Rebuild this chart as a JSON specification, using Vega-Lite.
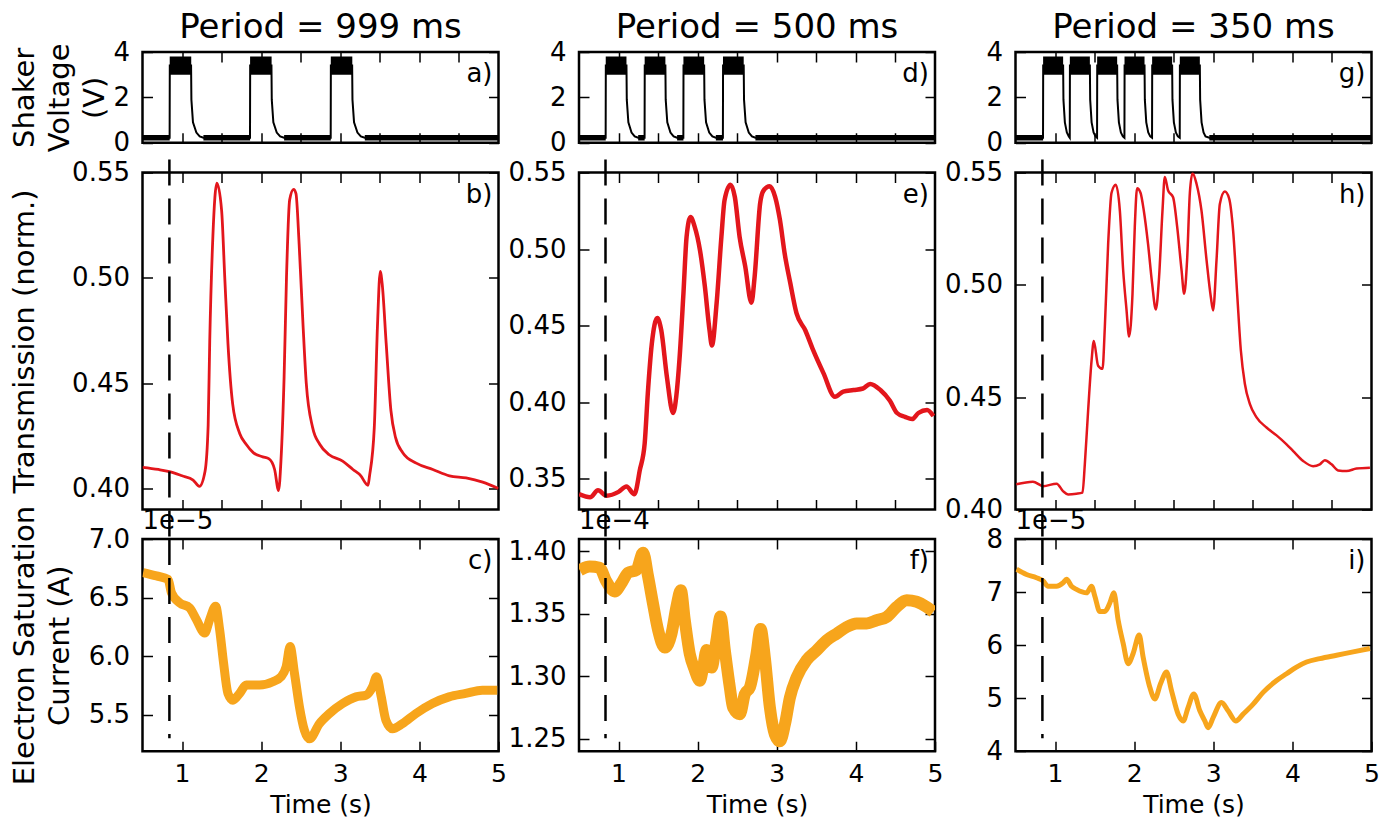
{
"$schema": "https://vega.github.io/schema/vega-lite/v6.json",
"padding": {"left": 8.5, "top": 9, "right": 5, "bottom": 3},
"background": "white",
"config": {
  "font": "DejaVu Sans",
  "view": {"stroke": "black", "strokeWidth": 2.5},
  "axis": {"domain": false, "grid": false, "tickColor": "black", "tickWidth": 1.5, "tickSize": -10,
    "labelFont": "DejaVu Sans", "labelFontSize": 26, "labelColor": "black", "labelPadding": 23,
    "labelFlush": false, "labelOverlap": false, "labelBound": false,
    "titleFont": "DejaVu Sans", "titleFontSize": 29, "titleFontWeight": "normal", "titleColor": "black"},
  "title": {"font": "DejaVu Sans", "fontSize": 34, "fontWeight": "normal", "color": "black", "baseline": "alphabetic", "frame": "group"},
  "text": {"font": "DejaVu Sans"}
},
"datasets": {
  "band999": [
    {"t0":0.844,"t1":1.116,"lo":3.0,"hi":3.8},{"t0":1.86,"t1":2.132,"lo":3.0,"hi":3.8},{"t0":2.88,"t1":3.152,"lo":3.0,"hi":3.8},
    {"t0":0.5,"t1":0.844,"lo":0.1,"hi":0.34},{"t0":1.27,"t1":1.86,"lo":0.1,"hi":0.34},{"t0":2.29,"t1":2.88,"lo":0.1,"hi":0.34},{"t0":3.31,"t1":5,"lo":0.1,"hi":0.34}],
  "band500": [
    {"t0":0.838,"t1":1.1,"lo":3.0,"hi":3.8},{"t0":1.33,"t1":1.592,"lo":3.0,"hi":3.8},{"t0":1.82,"t1":2.082,"lo":3.0,"hi":3.8},{"t0":2.32,"t1":2.582,"lo":3.0,"hi":3.8},
    {"t0":0.5,"t1":0.838,"lo":0.1,"hi":0.34},{"t0":1.248,"t1":1.33,"lo":0.1,"hi":0.34},{"t0":1.74,"t1":1.82,"lo":0.1,"hi":0.34},{"t0":2.23,"t1":2.32,"lo":0.1,"hi":0.34},{"t0":2.73,"t1":5,"lo":0.1,"hi":0.34}],
  "band350": [
    {"t0":0.849,"t1":1.102,"lo":3.0,"hi":3.8},{"t0":1.187,"t1":1.44,"lo":3.0,"hi":3.8},{"t0":1.532,"t1":1.785,"lo":3.0,"hi":3.8},{"t0":1.878,"t1":2.131,"lo":3.0,"hi":3.8},{"t0":2.227,"t1":2.48,"lo":3.0,"hi":3.8},{"t0":2.577,"t1":2.83,"lo":3.0,"hi":3.8},
    {"t0":0.5,"t1":0.849,"lo":0.1,"hi":0.34},{"t0":2.95,"t1":5,"lo":0.1,"hi":0.34}],
  "volt999": [
    {"t":0.5,"v":0.22},{"t":0.843,"v":0.22},{"t":0.845,"v":3.4},{"t":1.114,"v":3.4},{"t":1.118,"v":1.9},{"t":1.138,"v":0.9},{"t":1.181,"v":0.45},{"t":1.223,"v":0.28},{"t":1.27,"v":0.22},
    {"t":1.859,"v":0.22},{"t":1.861,"v":3.4},{"t":2.13,"v":3.4},{"t":2.134,"v":1.9},{"t":2.154,"v":0.9},{"t":2.197,"v":0.45},{"t":2.24,"v":0.28},{"t":2.29,"v":0.22},
    {"t":2.879,"v":0.22},{"t":2.881,"v":3.4},{"t":3.15,"v":3.4},{"t":3.154,"v":1.9},{"t":3.174,"v":0.9},{"t":3.217,"v":0.45},{"t":3.26,"v":0.28},{"t":3.31,"v":0.22},{"t":5,"v":0.22}],
  "volt500": [
    {"t":0.5,"v":0.22},{"t":0.837,"v":0.22},{"t":0.839,"v":3.4},{"t":1.1,"v":3.4},{"t":1.104,"v":1.9},{"t":1.124,"v":0.9},{"t":1.164,"v":0.45},{"t":1.204,"v":0.28},{"t":1.248,"v":0.22},
    {"t":1.329,"v":0.22},{"t":1.331,"v":3.4},{"t":1.592,"v":3.4},{"t":1.596,"v":1.9},{"t":1.616,"v":0.9},{"t":1.656,"v":0.45},{"t":1.696,"v":0.28},{"t":1.74,"v":0.22},
    {"t":1.819,"v":0.22},{"t":1.821,"v":3.4},{"t":2.082,"v":3.4},{"t":2.086,"v":1.9},{"t":2.106,"v":0.9},{"t":2.146,"v":0.45},{"t":2.186,"v":0.28},{"t":2.23,"v":0.22},
    {"t":2.319,"v":0.22},{"t":2.321,"v":3.4},{"t":2.582,"v":3.4},{"t":2.586,"v":1.9},{"t":2.606,"v":0.9},{"t":2.646,"v":0.45},{"t":2.686,"v":0.28},{"t":2.73,"v":0.22},{"t":5,"v":0.22}],
  "volt350": [
    {"t":0.5,"v":0.22},{"t":0.848,"v":0.22},{"t":0.85,"v":3.4},{"t":1.102,"v":3.4},{"t":1.106,"v":1.9},{"t":1.124,"v":0.9},{"t":1.149,"v":0.45},{"t":1.174,"v":0.28},{"t":1.186,"v":0.22},
    {"t":1.188,"v":3.4},{"t":1.44,"v":3.4},{"t":1.444,"v":1.9},{"t":1.462,"v":0.9},{"t":1.487,"v":0.45},{"t":1.512,"v":0.28},{"t":1.531,"v":0.22},
    {"t":1.533,"v":3.4},{"t":1.785,"v":3.4},{"t":1.789,"v":1.9},{"t":1.807,"v":0.9},{"t":1.832,"v":0.45},{"t":1.857,"v":0.28},{"t":1.877,"v":0.22},
    {"t":1.879,"v":3.4},{"t":2.131,"v":3.4},{"t":2.135,"v":1.9},{"t":2.153,"v":0.9},{"t":2.178,"v":0.45},{"t":2.203,"v":0.28},{"t":2.226,"v":0.22},
    {"t":2.228,"v":3.4},{"t":2.48,"v":3.4},{"t":2.484,"v":1.9},{"t":2.502,"v":0.9},{"t":2.527,"v":0.45},{"t":2.552,"v":0.28},{"t":2.576,"v":0.22},
    {"t":2.578,"v":3.4},{"t":2.83,"v":3.4},{"t":2.834,"v":1.9},{"t":2.852,"v":0.9},{"t":2.877,"v":0.45},{"t":2.902,"v":0.28},{"t":2.95,"v":0.22},{"t":5,"v":0.22}],
  "tr999": [
    {"t":0.5,"v":0.41},{"t":0.7,"v":0.409},{"t":0.84,"v":0.408},{"t":1.0,"v":0.406},{"t":1.14,"v":0.404},{"t":1.22,"v":0.401},{"t":1.29,"v":0.408},{"t":1.33,"v":0.43},{"t":1.35,"v":0.47},{"t":1.39,"v":0.52},{"t":1.44,"v":0.545},{"t":1.5,"v":0.532},{"t":1.54,"v":0.5},{"t":1.58,"v":0.469},{"t":1.64,"v":0.44},{"t":1.73,"v":0.426},{"t":1.81,"v":0.421},{"t":1.9,"v":0.417},{"t":2.02,"v":0.415},{"t":2.1,"v":0.414},{"t":2.17,"v":0.409},{"t":2.22,"v":0.399},{"t":2.25,"v":0.413},{"t":2.29,"v":0.453},{"t":2.32,"v":0.5},{"t":2.36,"v":0.537},{"t":2.41,"v":0.542},{"t":2.44,"v":0.54},{"t":2.48,"v":0.516},{"t":2.53,"v":0.477},{"t":2.57,"v":0.45},{"t":2.65,"v":0.429},{"t":2.74,"v":0.421},{"t":2.86,"v":0.416},{"t":3.03,"v":0.413},{"t":3.16,"v":0.409},{"t":3.26,"v":0.406},{"t":3.33,"v":0.402},{"t":3.35,"v":0.4015},{"t":3.37,"v":0.406},{"t":3.43,"v":0.429},{"t":3.47,"v":0.477},{"t":3.505,"v":0.503},{"t":3.53,"v":0.497},{"t":3.58,"v":0.469},{"t":3.64,"v":0.437},{"t":3.7,"v":0.424},{"t":3.79,"v":0.417},{"t":3.96,"v":0.412},{"t":4.17,"v":0.409},{"t":4.38,"v":0.406},{"t":4.59,"v":0.405},{"t":4.8,"v":0.403},{"t":5.0,"v":0.4}],
  "tr500": [
    {"t":0.5,"v":0.34},{"t":0.64,"v":0.338},{"t":0.74,"v":0.3425},{"t":0.85,"v":0.339},{"t":1.0,"v":0.3415},{"t":1.1,"v":0.345},{"t":1.2,"v":0.34},{"t":1.27,"v":0.356},{"t":1.33,"v":0.373},{"t":1.37,"v":0.406},{"t":1.42,"v":0.438},{"t":1.49,"v":0.455},{"t":1.54,"v":0.447},{"t":1.61,"v":0.417},{"t":1.69,"v":0.393},{"t":1.73,"v":0.404},{"t":1.77,"v":0.428},{"t":1.82,"v":0.471},{"t":1.86,"v":0.508},{"t":1.91,"v":0.521},{"t":1.96,"v":0.515},{"t":2.03,"v":0.499},{"t":2.09,"v":0.476},{"t":2.15,"v":0.447},{"t":2.18,"v":0.437},{"t":2.24,"v":0.465},{"t":2.3,"v":0.508},{"t":2.34,"v":0.532},{"t":2.415,"v":0.542},{"t":2.47,"v":0.534},{"t":2.53,"v":0.508},{"t":2.6,"v":0.489},{"t":2.68,"v":0.465},{"t":2.72,"v":0.482},{"t":2.79,"v":0.53},{"t":2.83,"v":0.538},{"t":2.91,"v":0.541},{"t":2.98,"v":0.534},{"t":3.04,"v":0.519},{"t":3.1,"v":0.497},{"t":3.17,"v":0.478},{"t":3.25,"v":0.458},{"t":3.36,"v":0.447},{"t":3.46,"v":0.434},{"t":3.59,"v":0.419},{"t":3.735,"v":0.4036},{"t":3.84,"v":0.407},{"t":3.97,"v":0.408},{"t":4.09,"v":0.409},{"t":4.18,"v":0.412},{"t":4.31,"v":0.408},{"t":4.43,"v":0.401},{"t":4.52,"v":0.393},{"t":4.62,"v":0.3905},{"t":4.71,"v":0.389},{"t":4.79,"v":0.393},{"t":4.9,"v":0.395},{"t":4.98,"v":0.391}],
  "tr350": [
    {"t":0.51,"v":0.4112},{"t":0.72,"v":0.4124},{"t":0.85,"v":0.4104},{"t":1.02,"v":0.4115},{"t":1.1,"v":0.4082},{"t":1.165,"v":0.4067},{"t":1.27,"v":0.407},{"t":1.347,"v":0.4075},{"t":1.376,"v":0.42},{"t":1.418,"v":0.444},{"t":1.461,"v":0.466},{"t":1.49,"v":0.475},{"t":1.544,"v":0.464},{"t":1.6,"v":0.4626},{"t":1.629,"v":0.481},{"t":1.671,"v":0.518},{"t":1.714,"v":0.541},{"t":1.768,"v":0.5445},{"t":1.819,"v":0.533},{"t":1.861,"v":0.5065},{"t":1.903,"v":0.489},{"t":1.936,"v":0.477},{"t":1.979,"v":0.496},{"t":2.008,"v":0.526},{"t":2.037,"v":0.543},{"t":2.08,"v":0.541},{"t":2.122,"v":0.533},{"t":2.176,"v":0.518},{"t":2.227,"v":0.5005},{"t":2.274,"v":0.489},{"t":2.315,"v":0.5035},{"t":2.358,"v":0.533},{"t":2.387,"v":0.548},{"t":2.429,"v":0.542},{"t":2.492,"v":0.539},{"t":2.543,"v":0.526},{"t":2.599,"v":0.5065},{"t":2.632,"v":0.496},{"t":2.669,"v":0.511},{"t":2.704,"v":0.541},{"t":2.738,"v":0.5497},{"t":2.788,"v":0.545},{"t":2.851,"v":0.533},{"t":2.915,"v":0.511},{"t":2.969,"v":0.4946},{"t":2.998,"v":0.4886},{"t":3.041,"v":0.511},{"t":3.083,"v":0.536},{"t":3.146,"v":0.5415},{"t":3.2,"v":0.5385},{"t":3.251,"v":0.524},{"t":3.302,"v":0.496},{"t":3.348,"v":0.471},{"t":3.399,"v":0.456},{"t":3.462,"v":0.447},{"t":3.547,"v":0.441},{"t":3.673,"v":0.4365},{"t":3.8,"v":0.433},{"t":3.926,"v":0.429},{"t":4.01,"v":0.426},{"t":4.136,"v":0.4216},{"t":4.262,"v":0.4193},{"t":4.347,"v":0.4201},{"t":4.41,"v":0.4219},{"t":4.495,"v":0.4201},{"t":4.578,"v":0.4174},{"t":4.685,"v":0.4171},{"t":4.811,"v":0.4182},{"t":4.98,"v":0.4186}],
  "cur999": [
    {"t":0.508,"v":6.714},{"t":0.677,"v":6.685},{"t":0.823,"v":6.656},{"t":0.866,"v":6.542},{"t":0.97,"v":6.456},{"t":1.096,"v":6.413},{"t":1.181,"v":6.313},{"t":1.286,"v":6.198},{"t":1.349,"v":6.313},{"t":1.424,"v":6.427},{"t":1.475,"v":6.227},{"t":1.525,"v":5.941},{"t":1.58,"v":5.683},{"t":1.643,"v":5.625},{"t":1.727,"v":5.683},{"t":1.811,"v":5.754},{"t":1.979,"v":5.754},{"t":2.147,"v":5.783},{"t":2.253,"v":5.826},{"t":2.316,"v":5.912},{"t":2.366,"v":6.083},{"t":2.421,"v":5.855},{"t":2.484,"v":5.568},{"t":2.547,"v":5.368},{"t":2.61,"v":5.296},{"t":2.736,"v":5.425},{"t":2.862,"v":5.511},{"t":3.03,"v":5.597},{"t":3.199,"v":5.654},{"t":3.325,"v":5.668},{"t":3.408,"v":5.74},{"t":3.459,"v":5.826},{"t":3.514,"v":5.668},{"t":3.577,"v":5.454},{"t":3.66,"v":5.382},{"t":3.786,"v":5.425},{"t":3.955,"v":5.511},{"t":4.165,"v":5.597},{"t":4.375,"v":5.654},{"t":4.585,"v":5.683},{"t":4.795,"v":5.711},{"t":4.984,"v":5.711}],
  "cur500": [
    {"t":0.509,"v":1.385},{"t":0.635,"v":1.388},{"t":0.762,"v":1.387},{"t":0.838,"v":1.377},{"t":0.952,"v":1.368},{"t":1.036,"v":1.3745},{"t":1.12,"v":1.383},{"t":1.226,"v":1.3852},{"t":1.31,"v":1.399},{"t":1.373,"v":1.38},{"t":1.436,"v":1.358},{"t":1.5,"v":1.337},{"t":1.584,"v":1.323},{"t":1.669,"v":1.334},{"t":1.732,"v":1.356},{"t":1.787,"v":1.369},{"t":1.837,"v":1.345},{"t":1.9,"v":1.318},{"t":1.964,"v":1.305},{"t":2.027,"v":1.2965},{"t":2.069,"v":1.307},{"t":2.112,"v":1.321},{"t":2.175,"v":1.307},{"t":2.238,"v":1.329},{"t":2.289,"v":1.348},{"t":2.343,"v":1.321},{"t":2.407,"v":1.291},{"t":2.448,"v":1.275},{"t":2.533,"v":1.2697},{"t":2.596,"v":1.2858},{"t":2.66,"v":1.2911},{"t":2.744,"v":1.3181},{"t":2.795,"v":1.338},{"t":2.849,"v":1.315},{"t":2.913,"v":1.275},{"t":2.976,"v":1.2535},{"t":3.039,"v":1.248},{"t":3.103,"v":1.2616},{"t":3.166,"v":1.283},{"t":3.25,"v":1.299},{"t":3.377,"v":1.313},{"t":3.503,"v":1.3207},{"t":3.63,"v":1.3288},{"t":3.757,"v":1.3342},{"t":3.883,"v":1.3395},{"t":4.01,"v":1.3423},{"t":4.136,"v":1.3423},{"t":4.263,"v":1.3449},{"t":4.389,"v":1.3476},{"t":4.516,"v":1.3556},{"t":4.642,"v":1.361},{"t":4.769,"v":1.3597},{"t":4.895,"v":1.3556},{"t":4.979,"v":1.3516}],
  "cur350": [
    {"t":0.513,"v":7.43},{"t":0.639,"v":7.33},{"t":0.765,"v":7.27},{"t":0.849,"v":7.21},{"t":0.912,"v":7.11},{"t":1.018,"v":7.11},{"t":1.102,"v":7.175},{"t":1.145,"v":7.24},{"t":1.208,"v":7.11},{"t":1.271,"v":7.05},{"t":1.398,"v":6.985},{"t":1.461,"v":7.11},{"t":1.503,"v":6.92},{"t":1.566,"v":6.634},{"t":1.629,"v":6.634},{"t":1.692,"v":6.794},{"t":1.743,"v":6.985},{"t":1.797,"v":6.476},{"t":1.861,"v":6.032},{"t":1.924,"v":5.651},{"t":1.987,"v":5.842},{"t":2.063,"v":6.19},{"t":2.113,"v":5.778},{"t":2.198,"v":5.206},{"t":2.261,"v":4.985},{"t":2.333,"v":5.27},{"t":2.409,"v":5.492},{"t":2.472,"v":5.143},{"t":2.556,"v":4.699},{"t":2.619,"v":4.571},{"t":2.682,"v":4.825},{"t":2.754,"v":5.08},{"t":2.83,"v":4.762},{"t":2.893,"v":4.571},{"t":2.935,"v":4.444},{"t":2.998,"v":4.634},{"t":3.104,"v":4.92},{"t":3.188,"v":4.762},{"t":3.285,"v":4.571},{"t":3.377,"v":4.699},{"t":3.504,"v":4.889},{"t":3.63,"v":5.11},{"t":3.8,"v":5.333},{"t":3.926,"v":5.461},{"t":4.052,"v":5.587},{"t":4.179,"v":5.682},{"t":4.347,"v":5.746},{"t":4.558,"v":5.81},{"t":4.768,"v":5.872},{"t":4.98,"v":5.937}]
},
"columns": 3,
"bounds": "flush",
"spacing": {"row": 29.5, "column": 80.5},
"concat": [
 {"width": 356, "height": 90.75, "title": {"text": "Period = 999 ms", "offset": -6},
  "layer": [
   {"data": {"name": "band999"}, "mark": {"type": "rect", "color": "black", "clip": true},
    "encoding": {
     "x": {"field": "t0", "type": "quantitative", "scale": {"domain": [0.5, 5], "nice": false, "zero": false}, "axis": {"orient": "bottom", "values": [1,1.5,2,2.5,3,3.5,4,4.5], "labels": false, "title": null}},
     "x2": {"field": "t1"},
     "y": {"field": "lo", "type": "quantitative", "scale": {"domain": [0, 4], "nice": false, "zero": false}, "axis": {"orient": "left", "values": [0,2,4], "title": ["Shaker","Voltage","(V)"], "titleX": -132, "titleBaseline": "top", "titleLineHeight": 35, "titleAngle": 270}},
     "y2": {"field": "hi"}}},
   {"data": {"name": "volt999"}, "mark": {"type": "line", "color": "black", "strokeWidth": 2, "clip": true},
    "encoding": {"x": {"field": "t", "type": "quantitative", "scale": {"domain": [0.5, 5], "nice": false, "zero": false}, "axis": null}, "y": {"field": "v", "type": "quantitative", "scale": {"domain": [0, 4], "nice": false, "zero": false}, "axis": null}}},
   {"data": {"values": [{"lab": "a)"}]}, "mark": {"type": "text", "align": "right", "baseline": "alphabetic", "dx": -6, "dy": 30, "fontSize": 26, "color": "black"},
    "encoding": {"text": {"field": "lab"},
     "x": {"datum": 5, "type": "quantitative", "scale": {"domain": [0.5, 5], "nice": false, "zero": false}, "axis": {"orient": "top", "values": [1,1.5,2,2.5,3,3.5,4,4.5], "labels": false, "title": null}},
     "y": {"datum": 4, "type": "quantitative", "scale": {"domain": [0, 4], "nice": false, "zero": false}, "axis": {"orient": "right", "values": [0,2,4], "labels": false, "title": null}}}}
  ]},
 {"width": 356, "height": 90.75, "title": {"text": "Period = 500 ms", "offset": -6},
  "layer": [
   {"data": {"name": "band500"}, "mark": {"type": "rect", "color": "black", "clip": true},
    "encoding": {
     "x": {"field": "t0", "type": "quantitative", "scale": {"domain": [0.5, 5], "nice": false, "zero": false}, "axis": {"orient": "bottom", "values": [1,1.5,2,2.5,3,3.5,4,4.5], "labels": false, "title": null}},
     "x2": {"field": "t1"},
     "y": {"field": "lo", "type": "quantitative", "scale": {"domain": [0, 4], "nice": false, "zero": false}, "axis": {"orient": "left", "values": [0,2,4], "title": null}},
     "y2": {"field": "hi"}}},
   {"data": {"name": "volt500"}, "mark": {"type": "line", "color": "black", "strokeWidth": 2, "clip": true},
    "encoding": {"x": {"field": "t", "type": "quantitative", "scale": {"domain": [0.5, 5], "nice": false, "zero": false}, "axis": null}, "y": {"field": "v", "type": "quantitative", "scale": {"domain": [0, 4], "nice": false, "zero": false}, "axis": null}}},
   {"data": {"values": [{"lab": "d)"}]}, "mark": {"type": "text", "align": "right", "baseline": "alphabetic", "dx": -6, "dy": 30, "fontSize": 26, "color": "black"},
    "encoding": {"text": {"field": "lab"},
     "x": {"datum": 5, "type": "quantitative", "scale": {"domain": [0.5, 5], "nice": false, "zero": false}, "axis": {"orient": "top", "values": [1,1.5,2,2.5,3,3.5,4,4.5], "labels": false, "title": null}},
     "y": {"datum": 4, "type": "quantitative", "scale": {"domain": [0, 4], "nice": false, "zero": false}, "axis": {"orient": "right", "values": [0,2,4], "labels": false, "title": null}}}}
  ]},
 {"width": 356, "height": 90.75, "title": {"text": "Period = 350 ms", "offset": -6},
  "layer": [
   {"data": {"name": "band350"}, "mark": {"type": "rect", "color": "black", "clip": true},
    "encoding": {
     "x": {"field": "t0", "type": "quantitative", "scale": {"domain": [0.5, 5], "nice": false, "zero": false}, "axis": {"orient": "bottom", "values": [1,1.5,2,2.5,3,3.5,4,4.5], "labels": false, "title": null}},
     "x2": {"field": "t1"},
     "y": {"field": "lo", "type": "quantitative", "scale": {"domain": [0, 4], "nice": false, "zero": false}, "axis": {"orient": "left", "values": [0,2,4], "title": null}},
     "y2": {"field": "hi"}}},
   {"data": {"name": "volt350"}, "mark": {"type": "line", "color": "black", "strokeWidth": 2, "clip": true},
    "encoding": {"x": {"field": "t", "type": "quantitative", "scale": {"domain": [0.5, 5], "nice": false, "zero": false}, "axis": null}, "y": {"field": "v", "type": "quantitative", "scale": {"domain": [0, 4], "nice": false, "zero": false}, "axis": null}}},
   {"data": {"values": [{"lab": "g)"}]}, "mark": {"type": "text", "align": "right", "baseline": "alphabetic", "dx": -6, "dy": 30, "fontSize": 26, "color": "black"},
    "encoding": {"text": {"field": "lab"},
     "x": {"datum": 5, "type": "quantitative", "scale": {"domain": [0.5, 5], "nice": false, "zero": false}, "axis": {"orient": "top", "values": [1,1.5,2,2.5,3,3.5,4,4.5], "labels": false, "title": null}},
     "y": {"datum": 4, "type": "quantitative", "scale": {"domain": [0, 4], "nice": false, "zero": false}, "axis": {"orient": "right", "values": [0,2,4], "labels": false, "title": null}}}}
  ]},
 {"width": 356, "height": 337,
  "layer": [
   {"data": {"name": "tr999"}, "mark": {"type": "line", "color": "#e3161c", "strokeWidth": 2.8, "interpolate": "monotone", "clip": true},
    "encoding": {
     "x": {"field": "t", "type": "quantitative", "scale": {"domain": [0.5, 5], "nice": false, "zero": false}, "axis": {"orient": "bottom", "values": [1,1.5,2,2.5,3,3.5,4,4.5], "labels": false, "title": null}},
     "y": {"field": "v", "type": "quantitative", "scale": {"domain": [0.39, 0.55], "nice": false, "zero": false}, "axis": {"orient": "left", "values": [0.4,0.45,0.5,0.55], "format": ".2f", "title": "Transmission (norm.)", "titleX": -132, "titleBaseline": "top", "titleAngle": 270}}}},
   {"data": {"values": [{}]}, "mark": {"type": "rule", "color": "black", "strokeWidth": 2.5, "strokeDash": [26, 13]},
    "encoding": {"x": {"datum": 0.84, "type": "quantitative", "scale": {"domain": [0.5, 5], "nice": false, "zero": false}, "axis": null},
     "y": {"datum": 0.5562, "type": "quantitative", "scale": {"domain": [0.39, 0.55], "nice": false, "zero": false}, "axis": null}, "y2": {"datum": 0.376}}},
   {"data": {"values": [{"lab": "b)"}]}, "mark": {"type": "text", "align": "right", "baseline": "alphabetic", "dx": -6, "dy": 30, "fontSize": 26, "color": "black"},
    "encoding": {"text": {"field": "lab"},
     "x": {"datum": 5, "type": "quantitative", "scale": {"domain": [0.5, 5], "nice": false, "zero": false}, "axis": {"orient": "top", "values": [1,1.5,2,2.5,3,3.5,4,4.5], "labels": false, "title": null}},
     "y": {"datum": 0.55, "type": "quantitative", "scale": {"domain": [0.39, 0.55], "nice": false, "zero": false}, "axis": {"orient": "right", "values": [0.4,0.45,0.5,0.55], "labels": false, "title": null}}}}
  ]},
 {"width": 356, "height": 337,
  "layer": [
   {"data": {"name": "tr500"}, "mark": {"type": "line", "color": "#e3161c", "strokeWidth": 4.5, "interpolate": "monotone", "clip": true},
    "encoding": {
     "x": {"field": "t", "type": "quantitative", "scale": {"domain": [0.5, 5], "nice": false, "zero": false}, "axis": {"orient": "bottom", "values": [1,1.5,2,2.5,3,3.5,4,4.5], "labels": false, "title": null}},
     "y": {"field": "v", "type": "quantitative", "scale": {"domain": [0.33, 0.55], "nice": false, "zero": false}, "axis": {"orient": "left", "values": [0.35,0.4,0.45,0.5,0.55], "format": ".2f", "title": null}}}},
   {"data": {"values": [{}]}, "mark": {"type": "rule", "color": "black", "strokeWidth": 2.5, "strokeDash": [26, 13]},
    "encoding": {"x": {"datum": 0.835, "type": "quantitative", "scale": {"domain": [0.5, 5], "nice": false, "zero": false}, "axis": null},
     "y": {"datum": 0.5585, "type": "quantitative", "scale": {"domain": [0.33, 0.55], "nice": false, "zero": false}, "axis": null}, "y2": {"datum": 0.3107}}},
   {"data": {"values": [{"lab": "e)"}]}, "mark": {"type": "text", "align": "right", "baseline": "alphabetic", "dx": -6, "dy": 30, "fontSize": 26, "color": "black"},
    "encoding": {"text": {"field": "lab"},
     "x": {"datum": 5, "type": "quantitative", "scale": {"domain": [0.5, 5], "nice": false, "zero": false}, "axis": {"orient": "top", "values": [1,1.5,2,2.5,3,3.5,4,4.5], "labels": false, "title": null}},
     "y": {"datum": 0.55, "type": "quantitative", "scale": {"domain": [0.33, 0.55], "nice": false, "zero": false}, "axis": {"orient": "right", "values": [0.35,0.4,0.45,0.5,0.55], "labels": false, "title": null}}}}
  ]},
 {"width": 356, "height": 337,
  "layer": [
   {"data": {"name": "tr350"}, "mark": {"type": "line", "color": "#e3161c", "strokeWidth": 2.5, "interpolate": "monotone", "clip": true},
    "encoding": {
     "x": {"field": "t", "type": "quantitative", "scale": {"domain": [0.5, 5], "nice": false, "zero": false}, "axis": {"orient": "bottom", "values": [1,1.5,2,2.5,3,3.5,4,4.5], "labels": false, "title": null}},
     "y": {"field": "v", "type": "quantitative", "scale": {"domain": [0.4, 0.55], "nice": false, "zero": false}, "axis": {"orient": "left", "values": [0.4,0.45,0.5,0.55], "format": ".2f", "title": null}}}},
   {"data": {"values": [{}]}, "mark": {"type": "rule", "color": "black", "strokeWidth": 2.5, "strokeDash": [26, 13]},
    "encoding": {"x": {"datum": 0.84, "type": "quantitative", "scale": {"domain": [0.5, 5], "nice": false, "zero": false}, "axis": null},
     "y": {"datum": 0.5558, "type": "quantitative", "scale": {"domain": [0.4, 0.55], "nice": false, "zero": false}, "axis": null}, "y2": {"datum": 0.3869}}},
   {"data": {"values": [{"lab": "h)"}]}, "mark": {"type": "text", "align": "right", "baseline": "alphabetic", "dx": -6, "dy": 30, "fontSize": 26, "color": "black"},
    "encoding": {"text": {"field": "lab"},
     "x": {"datum": 5, "type": "quantitative", "scale": {"domain": [0.5, 5], "nice": false, "zero": false}, "axis": {"orient": "top", "values": [1,1.5,2,2.5,3,3.5,4,4.5], "labels": false, "title": null}},
     "y": {"datum": 0.55, "type": "quantitative", "scale": {"domain": [0.4, 0.55], "nice": false, "zero": false}, "axis": {"orient": "right", "values": [0.4,0.45,0.5,0.55], "labels": false, "title": null}}}}
  ]},
 {"width": 356, "height": 212.25,
  "layer": [
   {"data": {"name": "cur999"}, "mark": {"type": "line", "color": "#f7a51c", "strokeWidth": 9, "strokeJoin": "round", "interpolate": "monotone", "clip": true},
    "encoding": {
     "x": {"field": "t", "type": "quantitative", "scale": {"domain": [0.5, 5], "nice": false, "zero": false}, "axis": {"orient": "bottom", "values": [1,2,3,4,5], "format": "d", "labelFontSize": 25, "labelPadding": 20, "title": "Time (s)", "titleFontSize": 25, "titleBaseline": "alphabetic", "titleY": 61}},
     "y": {"field": "v", "type": "quantitative", "scale": {"domain": [5.19, 7.0], "nice": false, "zero": false}, "axis": {"orient": "left", "values": [5.5,6.0,6.5,7.0], "format": ".1f", "title": ["Electron Saturation", "Current (A)"], "titleX": -132, "titleBaseline": "top", "titleLineHeight": 35, "titleAngle": 270}}}},
   {"data": {"values": [{}]}, "mark": {"type": "rule", "color": "black", "strokeWidth": 2.5, "strokeDash": [26, 13]},
    "encoding": {"x": {"datum": 0.84, "type": "quantitative", "scale": {"domain": [0.5, 5], "nice": false, "zero": false}, "axis": null},
     "y": {"datum": 7.0, "type": "quantitative", "scale": {"domain": [5.19, 7.0], "nice": false, "zero": false}, "axis": null}, "y2": {"datum": 5.3}}},
   {"data": {"values": [{"lab": "1e−5"}]}, "mark": {"type": "text", "align": "left", "baseline": "alphabetic", "dy": -10, "fontSize": 26, "color": "black"},
    "encoding": {"text": {"field": "lab"},
     "x": {"datum": 0.5, "type": "quantitative", "scale": {"domain": [0.5, 5], "nice": false, "zero": false}, "axis": null},
     "y": {"datum": 7.0, "type": "quantitative", "scale": {"domain": [5.19, 7.0], "nice": false, "zero": false}, "axis": null}}},
   {"data": {"values": [{"lab": "c)"}]}, "mark": {"type": "text", "align": "right", "baseline": "alphabetic", "dx": -6, "dy": 30, "fontSize": 26, "color": "black"},
    "encoding": {"text": {"field": "lab"},
     "x": {"datum": 5, "type": "quantitative", "scale": {"domain": [0.5, 5], "nice": false, "zero": false}, "axis": {"orient": "top", "values": [1,2,3,4], "labels": false, "title": null}},
     "y": {"datum": 7.0, "type": "quantitative", "scale": {"domain": [5.19, 7.0], "nice": false, "zero": false}, "axis": {"orient": "right", "values": [5.5,6.0,6.5,7.0], "labels": false, "title": null}}}}
  ]},
 {"width": 356, "height": 212.25,
  "layer": [
   {"data": {"name": "cur500"}, "mark": {"type": "line", "color": "#f7a51c", "strokeWidth": 12, "strokeJoin": "round", "interpolate": "monotone", "clip": true},
    "encoding": {
     "x": {"field": "t", "type": "quantitative", "scale": {"domain": [0.5, 5], "nice": false, "zero": false}, "axis": {"orient": "bottom", "values": [1,2,3,4,5], "format": "d", "labelFontSize": 25, "labelPadding": 20, "title": "Time (s)", "titleFontSize": 25, "titleBaseline": "alphabetic", "titleY": 61}},
     "y": {"field": "v", "type": "quantitative", "scale": {"domain": [1.24, 1.41], "nice": false, "zero": false}, "axis": {"orient": "left", "values": [1.25,1.3,1.35,1.4], "format": ".2f", "title": null}}}},
   {"data": {"values": [{}]}, "mark": {"type": "rule", "color": "black", "strokeWidth": 2.5, "strokeDash": [26, 13]},
    "encoding": {"x": {"datum": 0.835, "type": "quantitative", "scale": {"domain": [0.5, 5], "nice": false, "zero": false}, "axis": null},
     "y": {"datum": 1.41, "type": "quantitative", "scale": {"domain": [1.24, 1.41], "nice": false, "zero": false}, "axis": null}, "y2": {"datum": 1.2504}}},
   {"data": {"values": [{"lab": "1e−4"}]}, "mark": {"type": "text", "align": "left", "baseline": "alphabetic", "dy": -10, "fontSize": 26, "color": "black"},
    "encoding": {"text": {"field": "lab"},
     "x": {"datum": 0.5, "type": "quantitative", "scale": {"domain": [0.5, 5], "nice": false, "zero": false}, "axis": null},
     "y": {"datum": 1.41, "type": "quantitative", "scale": {"domain": [1.24, 1.41], "nice": false, "zero": false}, "axis": null}}},
   {"data": {"values": [{"lab": "f)"}]}, "mark": {"type": "text", "align": "right", "baseline": "alphabetic", "dx": -6, "dy": 30, "fontSize": 26, "color": "black"},
    "encoding": {"text": {"field": "lab"},
     "x": {"datum": 5, "type": "quantitative", "scale": {"domain": [0.5, 5], "nice": false, "zero": false}, "axis": {"orient": "top", "values": [1,2,3,4], "labels": false, "title": null}},
     "y": {"datum": 1.41, "type": "quantitative", "scale": {"domain": [1.24, 1.41], "nice": false, "zero": false}, "axis": {"orient": "right", "values": [1.25,1.3,1.35,1.4], "labels": false, "title": null}}}}
  ]},
 {"width": 356, "height": 212.25,
  "layer": [
   {"data": {"name": "cur350"}, "mark": {"type": "line", "color": "#f7a51c", "strokeWidth": 5, "strokeJoin": "round", "interpolate": "monotone", "clip": true},
    "encoding": {
     "x": {"field": "t", "type": "quantitative", "scale": {"domain": [0.5, 5], "nice": false, "zero": false}, "axis": {"orient": "bottom", "values": [1,2,3,4,5], "format": "d", "labelFontSize": 25, "labelPadding": 20, "title": "Time (s)", "titleFontSize": 25, "titleBaseline": "alphabetic", "titleY": 61}},
     "y": {"field": "v", "type": "quantitative", "scale": {"domain": [4, 8], "nice": false, "zero": false}, "axis": {"orient": "left", "values": [4,5,6,7,8], "format": "d", "title": null}}}},
   {"data": {"values": [{}]}, "mark": {"type": "rule", "color": "black", "strokeWidth": 2.5, "strokeDash": [26, 13]},
    "encoding": {"x": {"datum": 0.84, "type": "quantitative", "scale": {"domain": [0.5, 5], "nice": false, "zero": false}, "axis": null},
     "y": {"datum": 8, "type": "quantitative", "scale": {"domain": [4, 8], "nice": false, "zero": false}, "axis": null}, "y2": {"datum": 4.245}}},
   {"data": {"values": [{"lab": "1e−5"}]}, "mark": {"type": "text", "align": "left", "baseline": "alphabetic", "dy": -10, "fontSize": 26, "color": "black"},
    "encoding": {"text": {"field": "lab"},
     "x": {"datum": 0.5, "type": "quantitative", "scale": {"domain": [0.5, 5], "nice": false, "zero": false}, "axis": null},
     "y": {"datum": 8, "type": "quantitative", "scale": {"domain": [4, 8], "nice": false, "zero": false}, "axis": null}}},
   {"data": {"values": [{"lab": "i)"}]}, "mark": {"type": "text", "align": "right", "baseline": "alphabetic", "dx": -6, "dy": 30, "fontSize": 26, "color": "black"},
    "encoding": {"text": {"field": "lab"},
     "x": {"datum": 5, "type": "quantitative", "scale": {"domain": [0.5, 5], "nice": false, "zero": false}, "axis": {"orient": "top", "values": [1,2,3,4], "labels": false, "title": null}},
     "y": {"datum": 8, "type": "quantitative", "scale": {"domain": [4, 8], "nice": false, "zero": false}, "axis": {"orient": "right", "values": [4,5,6,7,8], "labels": false, "title": null}}}}
  ]}
]
}
